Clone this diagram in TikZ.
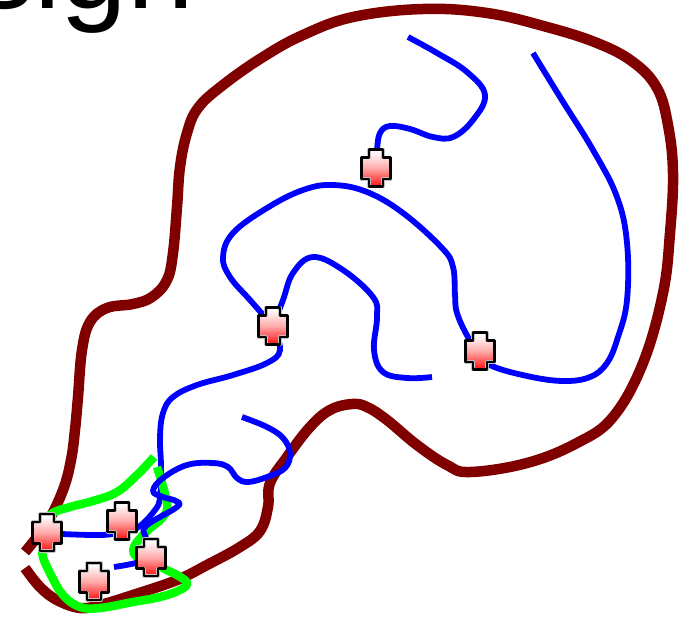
\documentclass[tikz,border=0pt]{standalone}
\usepackage{fontspec}
\setmainfont{Liberation Sans}
\pgfdeclarelayer{wires}
\pgfsetlayers{wires,main}
\definecolor{darkline}{HTML}{800000}
\pgfdeclareverticalshading{crossfill}{100bp}{color(0bp)=(red);color(26bp)=(red);color(50bp)=(red!33!white);color(70bp)=(white);color(100bp)=(white)}
\def\crosspath{(path picture bounding box.center)
        ++(-7,-18.5) -- ++(14,0) -- ++(0,8) -- ++(7.5,0) -- ++(0,21.5) -- ++(-7.5,0) -- ++(0,7.5) -- ++(-14,0) -- ++(0,-7.5) -- ++(-7.5,0) -- ++(0,-21.5) -- ++(7.5,0) -- cycle}
\tikzset{
  outline/.style={draw=darkline,line width=10.5pt,line join=round},
  bluewire/.style={draw=blue,line width=5.8pt,line join=round},
  greenwire/.style={draw=green,line width=8.5pt,line join=round},
  marker/.style={inner sep=0pt,minimum width=34pt,minimum height=42pt,
    path picture={
      \path[shading=crossfill] \crosspath;
      \draw[black!25,line width=3.2pt,line join=round] \crosspath;
      \draw[black,line width=2.2pt,line join=round] \crosspath;
    }},
  curve/.style={smooth,tension=0.65}
}
\begin{document}
\begin{tikzpicture}[x=1pt,y=-1pt]
\useasboundingbox (0,0) rectangle (680,616);
\clip (0,0) rectangle (680,616);
\node[anchor=base west,inner sep=0pt,font=\fontsize{120pt}{120pt}\selectfont] (title) at (-26,8) {sign};
\node[marker] (m1) at (47,532.5) {};
\node[marker] (m2) at (122,521) {};
\node[marker] (m3) at (151,557.5) {};
\node[marker] (m4) at (94,581.5) {};
\node[marker] (m5) at (376,168) {};
\node[marker] (m6) at (273,326) {};
\node[marker] (m7) at (480,351) {};
\coordinate (free1) at (25,552);
\coordinate (free2) at (25,568);
\coordinate (free3) at (408,37);
\coordinate (free4) at (533,53);
\coordinate (free5) at (432,377);
\coordinate (free6) at (242,417);
\coordinate (free7) at (114,567);
\coordinate (free8) at (154,457);
\coordinate (free9) at (157,467);
\begin{pgfonlayer}{wires}
\draw[outline] plot[curve] coordinates {(free1) (47,523) (63,490) (71,460) (75,430) (78,397) (82,350) (90,322) (107,308) (133,304) (152,297) (167,280) (173,253) (177,207) (180,167) (187,133) (198,108) (223,85) (263,57) (303,35) (353,17) (423,9) (487,13) (547,27) (597,43) (633,62) (657,88) (668,125) (673,173) (670,233) (663,293) (643,363) (613,417) (577,443) (527,463) (470,472) (447,465) (417,445) (387,420) (367,407) (352,404) (330,410) (310,427) (287,457) (270,483) (268,507) (260,531) (240,547) (207,565) (177,580) (133,595) (100,605) (80,608) (57,600) (40,587) (free2)};
\draw[bluewire] plot[curve] coordinates {(free3) (437,53) (467,72) (485,95) (473,120) (453,137) (433,137) (410,129) (390,126) (380,133) (377,150) (m5)};
\draw[bluewire] plot[curve] coordinates {(free4) (560,97) (593,150) (617,197) (627,243) (627,300) (618,337) (607,363) (590,377) (563,381) (527,376) (490,365) (m7)};
\draw[bluewire] plot[curve] coordinates {(m7) (468,337) (457,313) (455,295) (453,267) (442,248) (403,213) (367,192) (333,185) (303,190) (267,208) (233,233) (223,257) (230,277) (250,300) (m6)};
\draw[bluewire] plot[curve] coordinates {(m6) (283,300) (293,273) (313,257) (343,270) (373,297) (377,317) (374,350) (383,372) (407,378) (free5)};
\draw[bluewire] plot[curve] coordinates {(m6) (280,350) (267,363) (233,375) (197,385) (173,397) (163,413) (160,437) (161,467) (160,497) (155,510) (137,528) (117,533) (100,535) (62,534) (m1)};
\draw[greenwire] plot[curve] coordinates {(free8) (137,475) (117,492) (93,501) (70,507) (50,515) (m1) (42,552) (50,573) (63,595) (80,607) (100,608) (133,602) (160,597) (180,590) (187,583) (177,575) (163,568) (m3)};
\draw[greenwire] plot[curve] coordinates {(m3) (137,557) (134,547) (147,531) (163,517) (167,503) (free9)};
\draw[bluewire] plot[curve] coordinates {(free7) (m3) (146,538) (146,526) (177,507) (176,501) (163,497) (153,491) (163,478) (187,465) (213,463) (228,467) (237,478) (248,482) (267,477) (285,468) (290,453) (283,438) (267,427) (free6)};
\end{pgfonlayer}
\end{tikzpicture}
\end{document}
